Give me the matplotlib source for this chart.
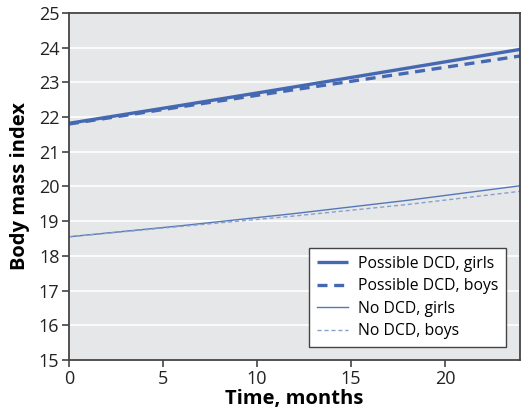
import matplotlib
matplotlib.use("Agg")
import matplotlib.pyplot as plt

months = [0, 6, 12, 18, 24]
possible_girls = [21.82, 22.34, 22.87, 23.41, 23.95]
possible_boys = [21.80, 22.30, 22.79, 23.27, 23.76]
no_girls = [18.55, 18.87, 19.22, 19.60, 20.02]
no_boys = [18.55, 18.85, 19.15, 19.48, 19.86]

plt.rcParams['font.family'] = ['Open Sans', 'DejaVu Sans']

fig = plt.figure(figsize=(5.28, 4.18), dpi=100)
ax = fig.add_axes([0.1307, 0.1388, 0.8543, 0.8302])
ax.set_facecolor('#E6E7E9')

blue = '#4468B2'
ax.plot(months, possible_girls, color=blue, lw=2.4, label='Possible DCD, girls', solid_capstyle='butt')
ax.plot(months, possible_boys, color=blue, lw=2.4, ls=(0, (3, 2)), label='Possible DCD, boys')
ax.plot(months, no_girls, color='#5577B8', lw=1.0, label='No DCD, girls')
ax.plot(months, no_boys, color='#8AA0C8', lw=1.0, ls=(0, (3, 2)), label='No DCD, boys')

ax.set_xlim(0, 24)
ax.set_ylim(15, 25)
ax.set_xticks([0, 5, 10, 15, 20])
ax.set_yticks(range(15, 26))
ax.yaxis.grid(True, color='white', lw=1.2)
ax.set_axisbelow(True)
for s in ax.spines.values():
    s.set_color('#444444')
    s.set_linewidth(1.3)
ax.tick_params(direction='out', length=5, width=1.2, color='#444444', labelsize=13, labelcolor='#222222', pad=2)

ax.set_xlabel('Time, months', fontsize=14.5, fontweight='bold', labelpad=1)
ax.set_ylabel('Body mass index', fontsize=14.5, fontweight='bold', labelpad=6)

leg = ax.legend(loc='lower right', bbox_to_anchor=(0.969, 0.037), borderaxespad=0, fontsize=11.3,
                frameon=True, fancybox=False, framealpha=1, edgecolor='#444444',
                handlelength=2.0, borderpad=0.5, labelspacing=0.42, handletextpad=0.6)
leg.get_frame().set_linewidth(1.0)

fig.savefig('out.png', dpi=100)
